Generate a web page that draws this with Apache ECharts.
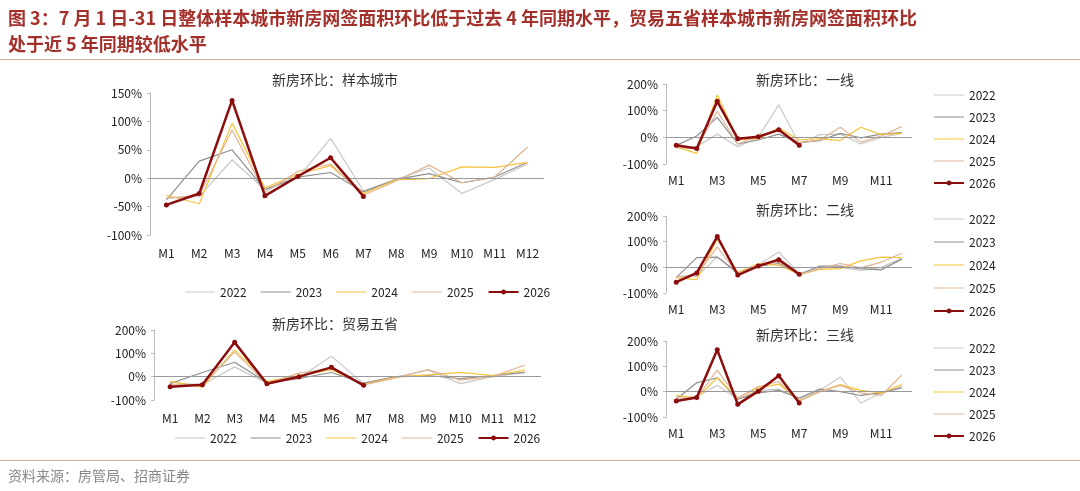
<!DOCTYPE html>
<html><head><meta charset="utf-8">
<script src="https://cdn.jsdelivr.net/npm/echarts@6/dist/echarts.min.js"></script>
<style>
body{margin:0;background:#fff;font-family:"Noto Sans CJK SC",sans-serif;}
#title{position:absolute;left:8px;top:4px;width:1070px;color:#a3302a;font-weight:bold;font-size:18px;line-height:26px;}
#hr1{position:absolute;left:0;top:59px;width:1080px;border-top:1.5px solid #e3a7a0;}
#hr2{position:absolute;left:0;top:460px;width:1080px;border-top:1px solid #e3a7a0;}
#src{position:absolute;left:8px;top:465px;color:#888;font-size:14px;}
#c{position:absolute;left:0;top:0;width:1080px;height:491px;}
</style></head><body>
<div id="c"></div>
<div id="title">图 3：7 月 1 日-31 日整体样本城市新房网签面积环比低于过去 4 年同期水平，贸易五省样本城市新房网签面积环比<br>处于近 5 年同期较低水平</div>
<div id="hr1"></div><div id="hr2"></div>
<div id="src">资料来源：房管局、招商证券</div>
<script>
const months = ['M1','M2','M3','M4','M5','M6','M7','M8','M9','M10','M11','M12'];
const years = ['2022','2023','2024','2025','2026'];
const sample = [
 [-35,-32,32,-20,0,70,-22,-2,18,-27,-2,25],
 [-38,30,50,-20,2,10,-24,-2,8,-8,2,28],
 [-30,-45,97,-17,7,22,-27,-3,-1,20,19,28],
 [-35,-30,85,-25,12,25,-30,-5,23,-8,2,55],
 [-47,-27,137,-31,3,36,-32]];
const trade = [
 [-25,-35,42,-28,-5,88,-30,-2,28,-30,0,18],
 [-30,18,62,-25,-8,18,-28,0,5,-8,5,18],
 [-20,-45,115,-20,5,30,-33,-2,8,18,5,28],
 [-35,-35,105,-30,15,35,-35,-5,30,-15,0,50],
 [-43,-35,147,-30,0,40,-37]];
const tier1 = [
 [-40,-35,12,-35,0,122,-25,10,12,-25,0,15],
 [-30,5,75,-25,-10,12,-20,-12,15,-2,12,18],
 [-35,-60,160,-10,-5,35,-10,-5,-12,38,10,15],
 [-40,-40,98,-25,5,25,-20,-10,38,-18,5,40],
 [-30,-42,135,-5,2,28,-30]];
const tier2 = [
 [-35,-35,40,-25,10,60,-25,0,0,-12,0,35],
 [-40,38,40,-20,5,15,-28,5,5,-5,-10,32],
 [-40,-48,110,-20,15,8,-28,-8,-5,25,40,38],
 [-38,-30,80,-25,10,20,-30,-5,15,-2,20,55],
 [-58,-22,120,-30,5,30,-27]];
const tier3 = [
 [-20,-20,25,-30,5,10,-30,5,58,-45,-5,20],
 [-30,35,55,-30,-5,5,-25,10,0,-15,-5,15],
 [-15,-25,55,-25,15,30,-35,0,28,5,-5,28],
 [-25,-25,85,-25,20,40,-38,0,25,-5,-15,65],
 [-37,-23,165,-50,2,63,-45]];
const colors = ['#c8c8c8','#8f8f8f','#f7c23c','#e0b594','#8b0d0d'];
const panels = [
 {t:'新房环比：样本城市',d:sample,g:{left:150,top:93,width:394,height:142},min:-100,max:150,iv:50,lab:0,tl:[330,78],leg:{left:180,top:281,orient:'horizontal',itemGap:14}},
 {t:'新房环比：贸易五省',d:trade,g:{left:154,top:330,width:387,height:70},min:-100,max:200,iv:100,lab:0,tl:[330,322],leg:{left:170,top:427,orient:'horizontal',itemGap:14}},
 {t:'新房环比：一线',d:tier1,g:{left:666,top:84,width:246,height:80},min:-100,max:200,iv:100,lab:1,tl:[800,78],leg:{left:928,top:84,orient:'vertical',itemGap:10}},
 {t:'新房环比：二线',d:tier2,g:{left:666,top:216,width:246,height:77},min:-100,max:200,iv:100,lab:1,tl:[800,208],leg:{left:928,top:208,orient:'vertical',itemGap:11}},
 {t:'新房环比：三线',d:tier3,g:{left:666,top:341,width:246,height:76},min:-100,max:200,iv:100,lab:1,tl:[800,333],leg:{left:928,top:337,orient:'vertical',itemGap:10}}];
const opt = {animation:false,title:[],grid:[],xAxis:[],yAxis:[],series:[],legend:[],
 textStyle:{fontFamily:'"Noto Sans CJK SC",sans-serif'}};
const legData = years.map((y,k)=>k<4?{name:y,icon:'path://M0,0H30V1H0Z'}:{name:y});
panels.forEach((p,i)=>{
 opt.title.push({text:p.t,left:p.tl[0],top:p.tl[1]-10,textAlign:'center',textStyle:{fontSize:14,fontWeight:'normal',color:'#333'}});
 opt.grid.push(p.g);
 opt.xAxis.push({type:'category',gridIndex:i,data:months,axisLine:{show:false},axisTick:{show:false},
  axisLabel:{interval:p.lab,color:'#222',fontSize:12,margin:i<2?12:10}});
 opt.yAxis.push({type:'value',gridIndex:i,min:p.min,max:p.max,interval:p.iv,splitLine:{show:false},
  axisLine:{show:true,lineStyle:{color:'#bbb'}},axisTick:{show:true,length:3,lineStyle:{color:'#bbb'}},
  axisLabel:{formatter:'{value}%',color:'#222',fontSize:12}});
 p.d.forEach((arr,k)=>{
  const last=k===4;
  opt.series.push({type:'line',name:years[k],xAxisIndex:i,yAxisIndex:i,data:arr,
   symbol:last?'circle':'none',symbolSize:5,showSymbol:last,z:last?5:2,
   lineStyle:{width:last?2.5:1.2,color:colors[k]},itemStyle:{color:colors[k]},
   markLine:k===0?{silent:true,symbol:'none',label:{show:false},data:[{yAxis:0}],lineStyle:{color:'#999',width:1,type:'solid'}}:undefined});
 });
 opt.legend.push(Object.assign({data:legData,itemWidth:30,itemHeight:6,textStyle:{fontSize:12,color:'#222'}},p.leg));
});
const ch=echarts.init(document.getElementById('c'));
ch.setOption(opt);
</script></body></html>
